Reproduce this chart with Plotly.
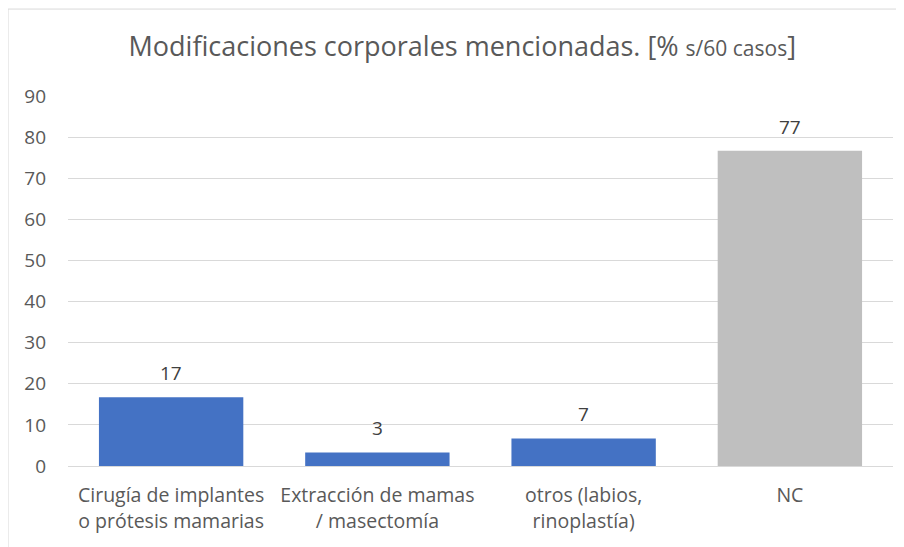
import plotly.graph_objects as go

categories = ["Cirugía de implantes<br>o prótesis mamarias", "Extracción de mamas<br>/ masectomía",
              "otros (labios,<br>rinoplastía)", "NC"]
values = [16.7, 3.3, 6.7, 76.7]
labels = ["17", "3", "7", "77"]
colors = ["#4472C4", "#4472C4", "#4472C4", "#BFBFBF"]
tickvals = [0, 10, 20, 30, 40, 50, 60, 70, 80, 90]

FONT = "Open Sans"

fig = go.Figure(go.Bar(
    x=categories, y=values,
    marker=dict(color=colors, line=dict(width=0)),
))

for c, v, t in zip(categories, values, labels):
    fig.add_annotation(x=c, y=v, text=t, showarrow=False, yanchor="bottom", yshift=9,
                       font=dict(size=19, color="#404040", family=FONT))

fig.update_layout(
    width=896, height=539,
    margin=dict(l=60, r=11, t=88, b=81),
    paper_bgcolor="white", plot_bgcolor="white",
    font=dict(family=FONT, color="#595959", size=19),
    bargap=0.3,
    showlegend=False,
    title=dict(text="Modificaciones corporales mencionadas. [% <span style='font-size:21px'>s/60 casos</span>]",
               x=0.507, xanchor="center", y=0.928, yanchor="middle",
               font=dict(size=27, color="#595959", family=FONT)),
    xaxis=dict(showline=True, linecolor="#D9D9D9", ticks="", tickfont=dict(size=19.5),
               ticklabelstandoff=12),
    yaxis=dict(range=[0, 90], tickvals=tickvals, showgrid=True, gridcolor="#D9D9D9",
               zeroline=False, showline=False, ticks="", ticklabelstandoff=21,
               tickfont=dict(size=19)),
    shapes=[dict(type="rect", xref="paper", yref="paper", x0=-0.0727, x1=1.05, y0=-0.4, y1=1.235,
                 line=dict(color="#D9D9D9", width=1), layer="below")],
)

fig.write_html("out.html")
